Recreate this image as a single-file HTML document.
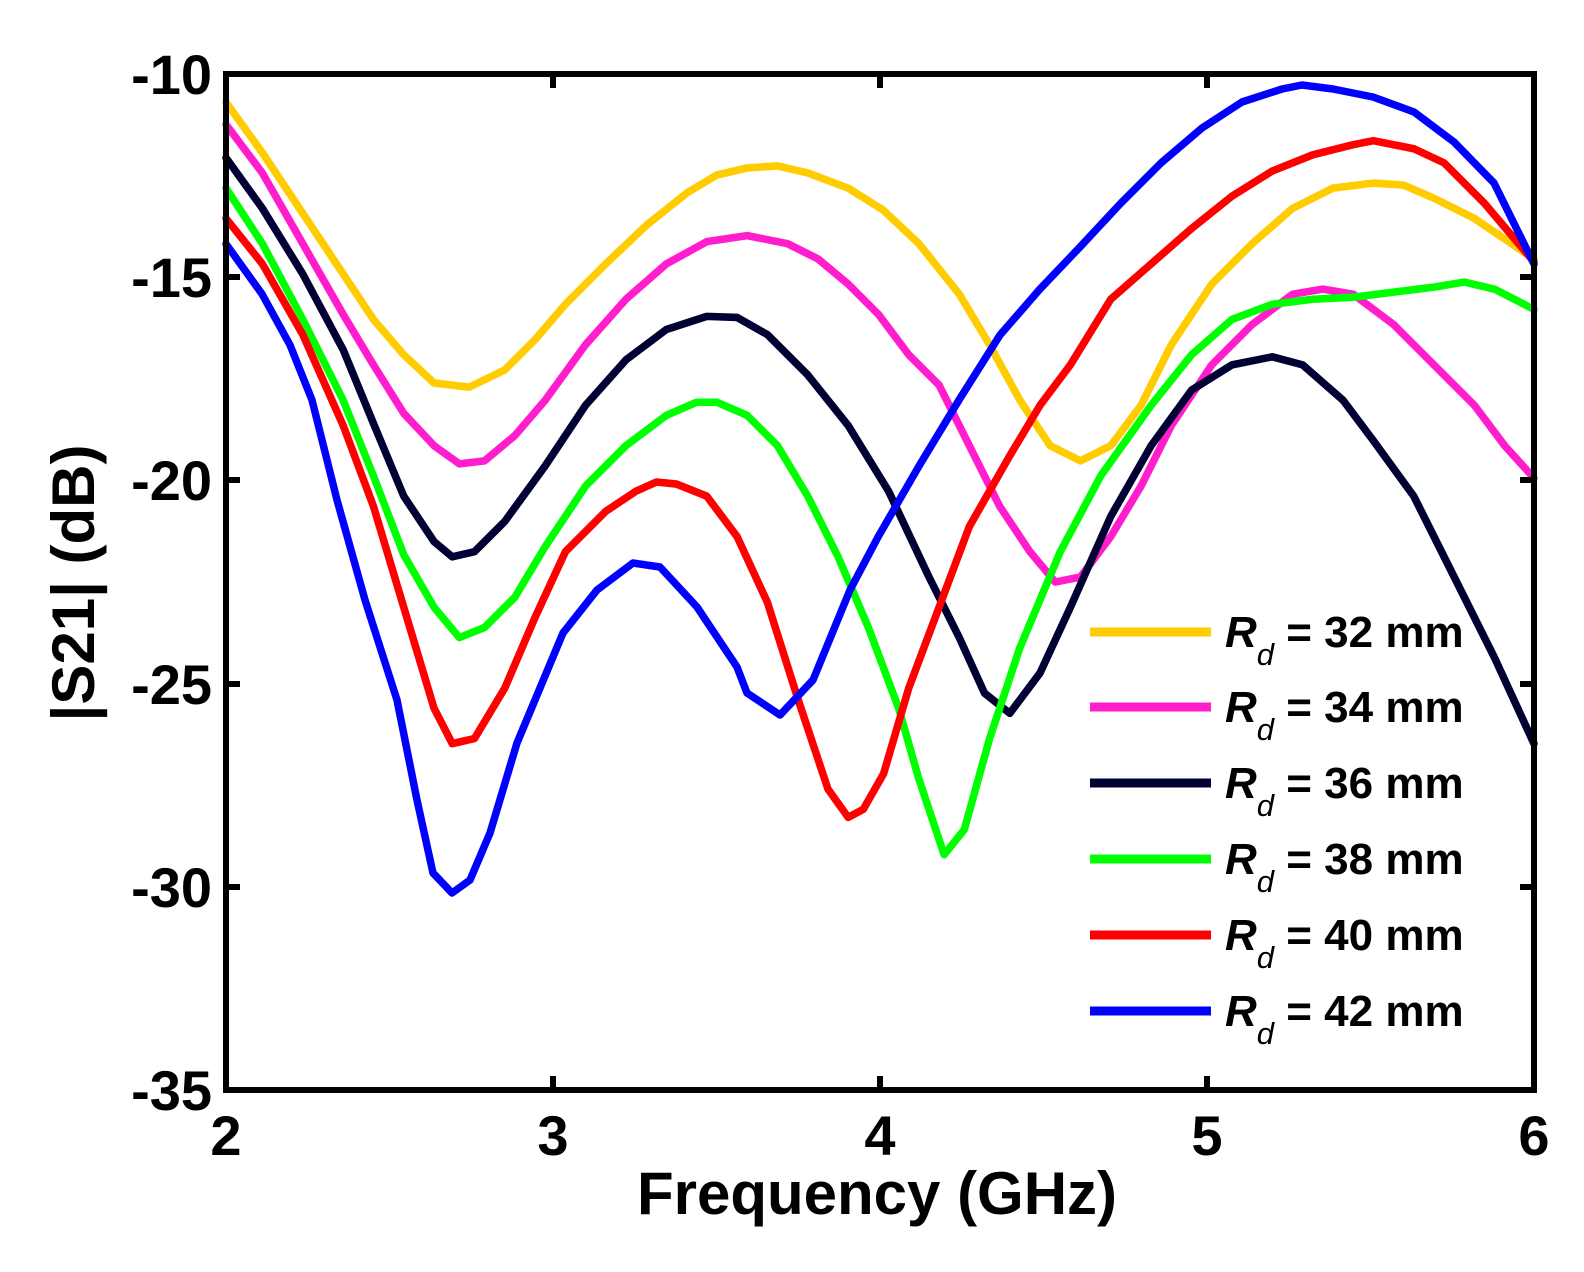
<!DOCTYPE html>
<html><head><meta charset="utf-8"><style>
html,body{margin:0;padding:0;background:#fff;}
svg{display:block;font-family:"Liberation Sans",Arial,sans-serif;font-weight:bold;}
</style></head><body>
<svg width="1584" height="1272" viewBox="0 0 1584 1272" xmlns="http://www.w3.org/2000/svg">
<rect width="1584" height="1272" fill="#fff"/>
<g fill="none" stroke-width="7.5" stroke-linejoin="round" stroke-linecap="round">
<g transform="translate(226,74) scale(1.01) translate(-224,-72)">
<polyline stroke="#ffcc00" points="224,100 260,150 300,210 340,270 370,315 400,350 430,378 465,382 500,365 530,335 560,300 600,260 640,222 680,190 710,172 740,165 770,163 800,170 840,185 875,207 910,240 950,290 980,340 1010,395 1040,440 1070,455 1100,440 1130,400 1160,340 1200,280 1240,240 1280,205 1320,185 1360,180 1390,182 1420,195 1460,215 1519,255"/>
<polyline stroke="#ff1dce" points="224,122 260,170 300,240 340,310 370,360 400,408 430,440 455,458 480,455 510,430 540,395 580,340 620,295 660,260 700,238 740,232 780,240 810,255 840,280 870,310 900,350 930,380 960,440 990,500 1020,545 1045,575 1070,570 1100,530 1130,480 1160,420 1200,360 1240,320 1280,290 1310,285 1340,290 1380,320 1420,360 1460,400 1490,440 1519,472"/>
<polyline stroke="#000033" points="224,155 260,205 300,270 340,345 370,418 400,490 430,535 448,550 470,545 500,515 540,460 580,400 620,355 660,325 700,312 730,313 760,330 800,370 840,420 880,485 920,570 950,630 975,685 1000,705 1030,665 1060,600 1100,510 1140,440 1180,385 1220,360 1260,352 1290,360 1330,395 1360,435 1400,490 1440,570 1480,650 1519,735"/>
<polyline stroke="#00ff00" points="224,185 260,240 300,315 340,395 370,470 400,548 430,600 455,630 480,620 510,590 540,540 580,480 620,440 660,410 690,397 710,397 740,410 770,440 800,490 830,550 860,620 890,700 910,770 935,845 955,820 980,730 1010,640 1050,545 1090,470 1140,400 1180,350 1220,315 1260,300 1300,295 1340,293 1380,288 1420,283 1450,278 1480,285 1519,305"/>
<polyline stroke="#ff0000" points="224,215 260,260 300,330 340,420 370,500 400,600 430,700 448,735 470,730 500,680 530,610 560,545 600,505 630,485 650,476 670,478 700,490 730,530 760,595 790,690 820,780 840,808 855,800 875,765 900,680 930,600 960,520 1000,450 1030,400 1060,360 1100,295 1140,260 1180,225 1220,193 1260,168 1300,152 1340,142 1360,138 1400,146 1430,160 1470,200 1519,258"/>
</g>
<polyline stroke="#0000ff" points="226,244 262,294 290,345 312,400 337,500 365,600 397,700 417,800 433,873 452,893 470,880 490,833 517,743 563,633 597,590 633,563 660,567 697,607 737,667 747,693 780,715 813,680 850,590 878,537 919,466 959,400 1000,335 1040,289 1080,247 1121,203 1161,163 1202,128 1242,102 1282,89 1302,85 1333,89 1373,97 1414,112 1454,142 1494,183 1534,264"/>
</g>
<rect x="226" y="74" width="1308" height="1016" fill="none" stroke="#000" stroke-width="6"/>
<g stroke="#000" stroke-width="6">
<line x1="226" y1="277" x2="240" y2="277"/><line x1="226" y1="480" x2="240" y2="480"/><line x1="226" y1="684" x2="240" y2="684"/><line x1="226" y1="887" x2="240" y2="887"/>
<line x1="1534" y1="277" x2="1520" y2="277"/><line x1="1534" y1="480" x2="1520" y2="480"/><line x1="1534" y1="684" x2="1520" y2="684"/><line x1="1534" y1="887" x2="1520" y2="887"/>
<line x1="553" y1="1090" x2="553" y2="1076"/><line x1="880" y1="1090" x2="880" y2="1076"/><line x1="1207" y1="1090" x2="1207" y2="1076"/>
<line x1="553" y1="74" x2="553" y2="88"/><line x1="880" y1="74" x2="880" y2="88"/><line x1="1207" y1="74" x2="1207" y2="88"/>
</g>
<g font-size="56" text-anchor="end">
<text x="212" y="94">-10</text><text x="212" y="297">-15</text><text x="212" y="500">-20</text><text x="212" y="704">-25</text><text x="212" y="907">-30</text><text x="212" y="1110">-35</text>
</g>
<g font-size="56" text-anchor="middle">
<text x="226" y="1155">2</text><text x="553" y="1155">3</text><text x="880" y="1155">4</text><text x="1207" y="1155">5</text><text x="1534" y="1155">6</text>
</g>
<g font-size="60" text-anchor="middle">
<text x="877" y="1214">Frequency (GHz)</text>
<text transform="translate(94,583) rotate(-90)">|S21| (dB)</text>
</g>
<g stroke-width="9">
<line x1="1090" y1="632" x2="1211" y2="632" stroke="#ffcc00"/>
<line x1="1090" y1="707" x2="1211" y2="707" stroke="#ff1dce"/>
<line x1="1090" y1="783" x2="1211" y2="783" stroke="#000033"/>
<line x1="1090" y1="859" x2="1211" y2="859" stroke="#00ff00"/>
<line x1="1090" y1="935" x2="1211" y2="935" stroke="#ff0000"/>
<line x1="1090" y1="1011" x2="1211" y2="1011" stroke="#0000ff"/>
</g>
<g font-size="44">
<text x="1225" y="647"><tspan font-style="italic">R</tspan><tspan font-style="italic" font-weight="normal" font-size="31" dy="18">d</tspan><tspan dy="-18"> = 32 mm</tspan></text>
<text x="1225" y="722"><tspan font-style="italic">R</tspan><tspan font-style="italic" font-weight="normal" font-size="31" dy="18">d</tspan><tspan dy="-18"> = 34 mm</tspan></text>
<text x="1225" y="798"><tspan font-style="italic">R</tspan><tspan font-style="italic" font-weight="normal" font-size="31" dy="18">d</tspan><tspan dy="-18"> = 36 mm</tspan></text>
<text x="1225" y="874"><tspan font-style="italic">R</tspan><tspan font-style="italic" font-weight="normal" font-size="31" dy="18">d</tspan><tspan dy="-18"> = 38 mm</tspan></text>
<text x="1225" y="950"><tspan font-style="italic">R</tspan><tspan font-style="italic" font-weight="normal" font-size="31" dy="18">d</tspan><tspan dy="-18"> = 40 mm</tspan></text>
<text x="1225" y="1026"><tspan font-style="italic">R</tspan><tspan font-style="italic" font-weight="normal" font-size="31" dy="18">d</tspan><tspan dy="-18"> = 42 mm</tspan></text>
</g>
</svg>
</body></html>
